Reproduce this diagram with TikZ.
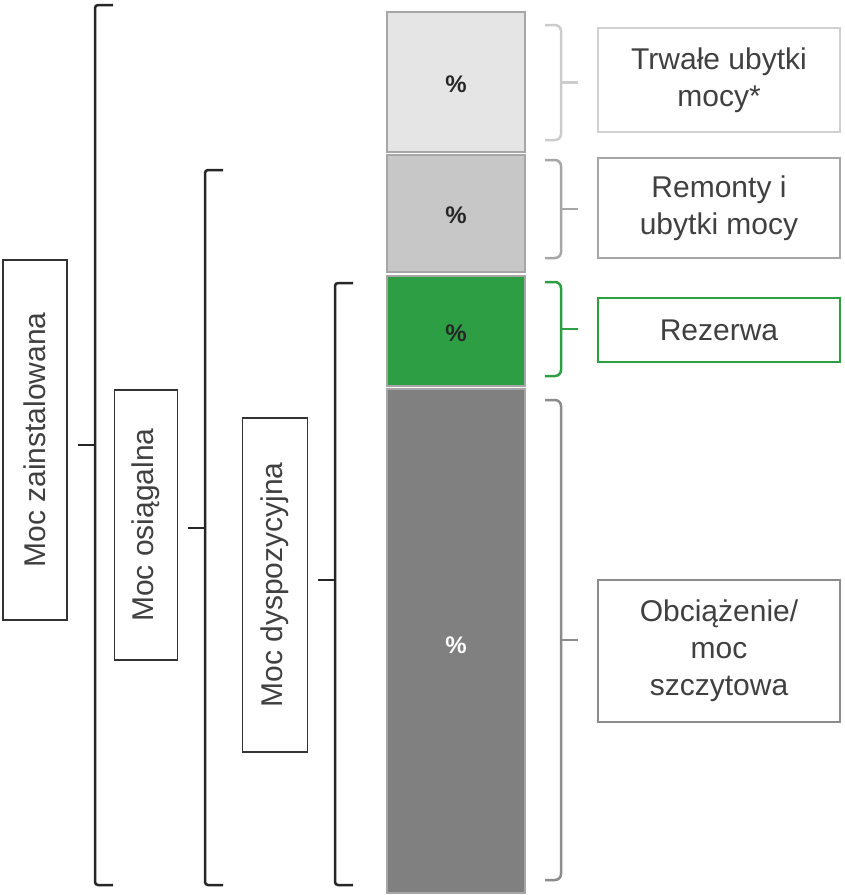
\documentclass[tikz,border=0pt]{standalone}
\usepackage{fontspec}
\setmainfont{Liberation Sans}
\definecolor{gr}{RGB}{46,158,69}
\begin{document}
\begin{tikzpicture}[x=1pt,y=-1pt,
  seg/.style={draw=gray!70,line width=1.5pt},
  pct/.style={font=\fontsize{24}{28}\selectfont\bfseries},
  lbl/.style={draw=#1,line width=1.5pt,align=center,font=\fontsize{30}{37}\selectfont,text=black!75,inner sep=0pt},
  rot/.style={draw=black!80,line width=1.2pt,rotate=90,font=\fontsize{30}{36}\selectfont,text=black!75,inner sep=0pt,anchor=center},
  brk/.style={line width=2.5pt,draw=black!85},
  cbr/.style={line width=2.5pt,rounded corners=6pt}]
\useasboundingbox (0,0) rectangle (845,895);
% bar segments
\draw[seg,fill=black!10] (387,12) rectangle (525,152);
\draw[seg,fill=black!22] (387,155) rectangle (525,272);
\draw[seg,fill=gr] (387,276) rectangle (525,386);
\draw[seg,fill=black!50] (387,389) rectangle (525,893);
\node[pct,text=black!85] (p1) at (456,84) {\%};
\node[pct,text=black!85] (p2) at (456,215) {\%};
\node[pct,text=black!85] (p3) at (456,333) {\%};
\node[pct,text=white] (p4) at (456,645) {\%};
% right labels
\node[lbl=black!18,minimum width=242pt,minimum height=104pt] (l1) at (719,80) {Trwałe ubytki\\mocy*};
\node[lbl=black!35,minimum width=242pt,minimum height=100pt] (l2) at (719,208) {Remonty i\\ubytki mocy};
\node[lbl=gr,minimum width=242pt,minimum height=64pt] (l3) at (719,330) {Rezerwa};
\node[lbl=black!45,minimum width=242pt,minimum height=142pt] (l4) at (719,651) {Obciążenie/\\moc\\szczytowa};
% right braces
\foreach \a/\b/\c in {25/140/black!20, 160/258/black!35, 282/376/gr, 400/880/black!45}{
  \draw[cbr,draw=\c] (545,\a) -- (561,\a) -- (561,\b) -- (545,\b);
  \draw[line width=2.5pt,draw=\c] (561,{(\a+\b)/2}) -- (578,{(\a+\b)/2});
}
% left brackets
\foreach \x/\a/\b/\m in {95/5/885/445, 205/170/885/528, 335/283/885/580}{
  \draw[brk,rounded corners=3pt] (\x+18,\a) -- (\x,\a) -- (\x,\b) -- (\x+18,\b);
  \draw[brk] (\x,\m) -- (\x-17,\m);
}
\node[rot,minimum width=360pt,minimum height=64pt] (r1) at (35,440) {Moc zainstalowana};
\node[rot,minimum width=270pt,minimum height=63pt] (r2) at (146,525) {Moc osiągalna};
\node[rot,minimum width=334pt,minimum height=65pt] (r3) at (275,585) {Moc dyspozycyjna};
\end{tikzpicture}
\end{document}
